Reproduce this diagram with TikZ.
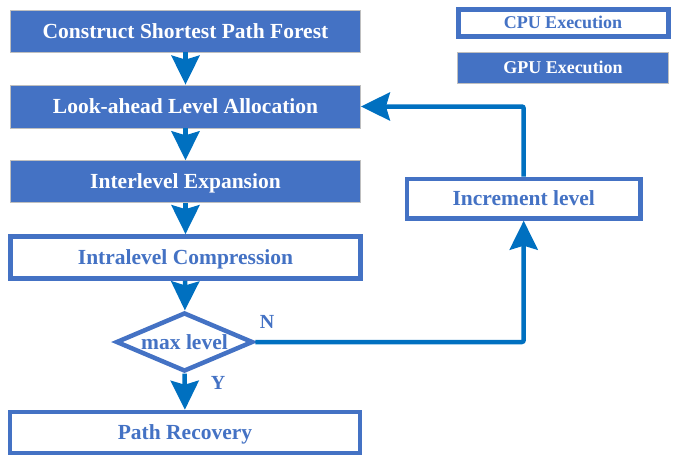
\documentclass[tikz,border=0pt]{standalone}
\usepackage{fontspec}
\setmainfont{Liberation Serif}
\usetikzlibrary{arrows.meta,shapes.geometric}
\definecolor{boxblue}{HTML}{4472C4}
\definecolor{arrowblue}{HTML}{0070C0}
\tikzset{
  gpubox/.style={rectangle, fill=boxblue, draw=black!25, line width=0.8pt, text=white,
    inner sep=0pt, minimum width=350pt, minimum height=42pt, text height=14.2pt, text depth=0pt,
    font=\fontsize{21.5}{24}\selectfont\bfseries},
  cpubox/.style={rectangle, fill=white, draw=boxblue, line width=4.5pt, text=boxblue,
    inner sep=0pt, minimum width=350pt, minimum height=42pt, text height=14.2pt, text depth=0pt,
    font=\fontsize{21.5}{24}\selectfont\bfseries},
  decision/.style={diamond, aspect=2.32, draw=boxblue, line width=4.5pt, text=boxblue, inner sep=0pt,
    minimum width=137pt, minimum height=59pt, text height=14.2pt, text depth=0pt,
    font=\fontsize{21.5}{24}\selectfont\bfseries},
  flow/.style={draw=arrowblue, line width=4.5pt,
    -{Stealth[length=29pt,width=28pt,inset=4pt]}},
  answer/.style={text=boxblue, font=\fontsize{20}{22}\selectfont\bfseries}
}
\begin{document}
\begin{tikzpicture}[x=1pt,y=-1pt]
\useasboundingbox (0,0) rectangle (678,455);
% main flow
\node[gpubox] (forest) at (185.5,31) {Construct Shortest Path Forest};
\node[gpubox, minimum height=43pt] (alloc) at (185.5,106.5) {Look-ahead Level Allocation};
\node[gpubox] (expand) at (185.5,181.7) {Interlevel Expansion};
\node[cpubox] (compress) at (185.5,257.4) {Intralevel Compression};
\node[decision] (maxlvl) at (184.5,342) {max level};
\node[cpubox, minimum height=41pt] (recover) at (185,432.5) {Path Recovery};
\node[cpubox, minimum width=233.5pt, minimum height=39.5pt] (incr) at (523.7,198.7) {Increment level};
% legend
\node[cpubox, line width=5pt, minimum width=210pt, minimum height=27pt, text height=11.9pt,
  font=\fontsize{18}{20}\selectfont\bfseries] (cpu) at (563,23) {CPU Execution};
\node[gpubox, minimum width=211pt, minimum height=31pt, text height=11.9pt,
  font=\fontsize{18}{20}\selectfont\bfseries] (gpu) at (563,68) {GPU Execution};
% connectors
\draw[flow] (forest) -- (alloc);
\draw[flow] (alloc) -- (expand);
\draw[flow] (expand) -- (compress);
\draw[flow] (compress) -- (maxlvl);
\draw[flow] (maxlvl) -- (recover);
\draw[flow, rounded corners=2pt] (maxlvl.east) -| (incr.south);
\draw[flow, rounded corners=2pt] (incr.north) |- (alloc.east);
\node[answer] (no) at (267,322) {N};
\node[answer] (yes) at (218,383) {Y};
\end{tikzpicture}
\end{document}
